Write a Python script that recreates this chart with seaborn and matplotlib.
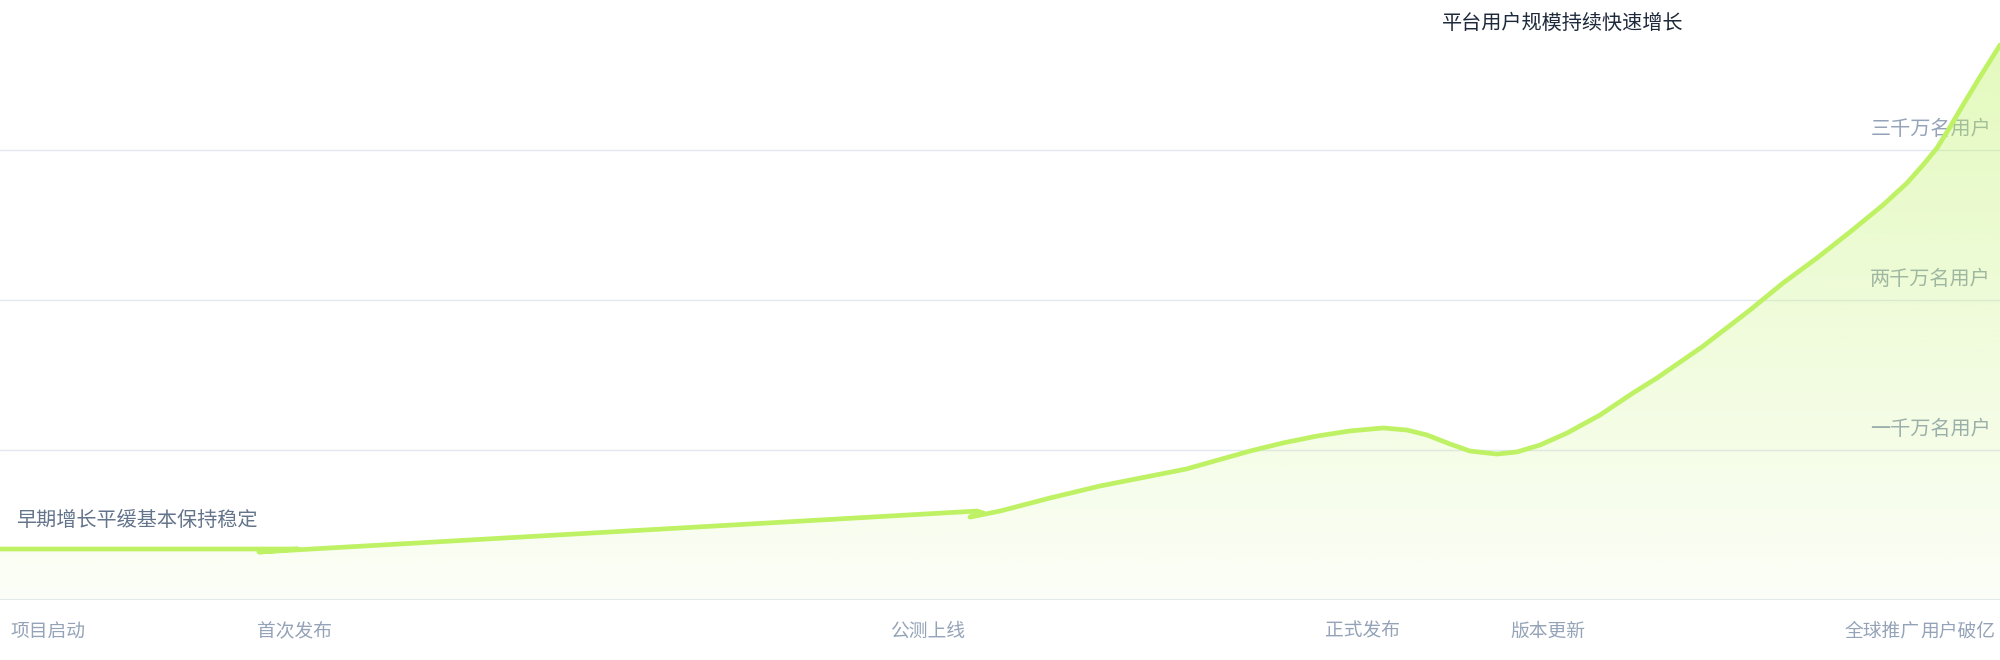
import numpy as np
import pandas as pd
import matplotlib
matplotlib.use("Agg")
import matplotlib.pyplot as plt
import seaborn as sns

# ---- data ----
# x: months since start (0-100), y: users (万)
months = [0, 14.9, 12.95, 48.85, 49.15, 48.5, 50.0, 52.5, 55.0, 59.3, 62.5,
          64.15, 65.85, 67.5, 69.15, 70.35, 71.35, 72.5, 73.5, 74.85, 75.85,
          77.0, 78.35, 80.0, 81.65, 82.85, 85.1, 87.5, 89.15, 90.85, 92.5,
          94.15, 95.35, 96.15, 96.85, 97.5, 98.15, 99.0, 100.0]
users = [340, 340, 320, 593, 580, 553, 593, 680, 760, 873, 993,
         1047, 1093, 1127, 1147, 1133, 1100, 1040, 993, 973, 987,
         1033, 1113, 1233, 1380, 1480, 1687, 1933, 2113, 2280, 2453,
         2633, 2780, 2900, 3013, 3153, 3300, 3487, 3700]

tick_pos = [2.4, 14.75, 46.4, 68.15, 77.4, 94.1, 97.9]
tick_labels = ["项目启动", "首次发布", "公测上线", "正式发布", "版本更新", "全球推广", "用户破亿"]

level_values = [1000, 2000, 3000]
level_labels = ["一千万名用户", "两千万名用户", "三千万名用户"]

title_text = "平台用户规模持续快速增长"
note_text = "早期增长平缓基本保持稳定"

# ---- style ----
sns.set_theme(style="white")
plt.rcParams['font.family'] = ['Noto Sans CJK SC', 'DejaVu Sans']

LINE = "#bef264"
GRID = "#e2e8f0"
TICK = "#94a3b8"

fig = plt.figure(figsize=(20, 6.6), dpi=100)
ax = fig.add_axes([0, 60 / 660, 1, 600 / 660])
ax.set_xlim(0, 100)
ax.set_ylim(0, 4000)

df = pd.DataFrame({"month": months, "users": users})

# gridlines
for v in level_values:
    ax.axhline(v, color=GRID, lw=1.0, zorder=0.5)
ax.axhline(0, color=GRID, lw=1.3, zorder=0.5)

# level labels (behind the area)
for v, lab in zip(level_values, level_labels):
    ax.annotate(lab, xy=(1, v), xycoords=('axes fraction', 'data'),
                xytext=(-9, 10), textcoords='offset pixels',
                ha='right', va='bottom', color=TICK, fontsize=14.5, zorder=1)

# gradient area
poly = ax.fill_between(months, users, 0, color='none', lw=0, zorder=2)
grad = np.linspace(0.05, 0.42, 256).reshape(-1, 1)
rgba = np.zeros((256, 1, 4))
rgba[..., 0] = 190 / 255
rgba[..., 1] = 242 / 255
rgba[..., 2] = 100 / 255
rgba[..., 3] = grad
img = ax.imshow(rgba, extent=(0, 100, 0, 3700), origin='lower', aspect='auto', zorder=2)
img.set_clip_path(poly.get_paths()[0], transform=ax.transData)
ax.set_xlim(0, 100)
ax.set_ylim(0, 4000)

# line
sns.lineplot(data=df, x="month", y="users", sort=False, estimator=None,
             color=LINE, lw=3.4, ax=ax, zorder=3)
ax.lines[-1].set_solid_capstyle('round')
ax.lines[-1].set_solid_joinstyle('round')

# ticks
ax.set_xticks(tick_pos)
ax.set_xticklabels(tick_labels, color=TICK, fontsize=13.5)
ax.set_yticks([])
ax.tick_params(axis='x', length=0, pad=15)
ax.set_xlabel("")
ax.set_ylabel("")
for s in ax.spines.values():
    s.set_visible(False)

# texts
ax.text(72.1, 3917, title_text, ha='left', va='top', color="#1e293b", fontsize=14.5, zorder=4)
ax.text(0.8, 597, note_text, ha='left', va='top', color="#64748b", fontsize=14.5, zorder=4)

fig.savefig("out.png", dpi=100, facecolor="white")
